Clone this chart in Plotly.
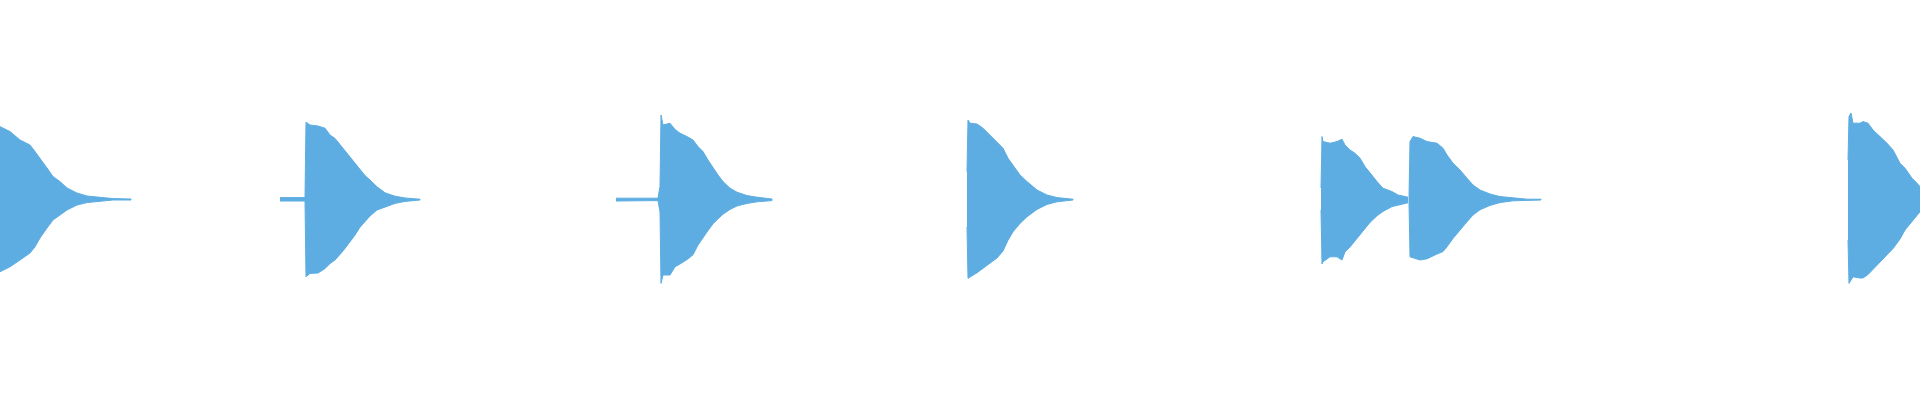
import plotly.graph_objects as go

# envelope of each hit (time in s, upper / lower peak amplitude)
t_hit1 = [0.00, 0.10, 0.20, 0.30, 0.35, 0.40, 0.47, 0.53, 0.60, 0.67, 0.77, 0.87, 1.00, 1.13, 1.31]
hi_hit1 = [0.367, 0.342, 0.300, 0.275, 0.242, 0.210, 0.160, 0.117, 0.092, 0.060, 0.035, 0.020, 0.012, 0.007, 0.005]
lo_hit1 = [-0.359, -0.334, -0.300, -0.265, -0.234, -0.190, -0.140, -0.100, -0.075, -0.050, -0.025, -0.013, -0.005, 0.0, 0.0]

t_hit2 = [2.80, 3.05, 3.06, 3.10, 3.18, 3.25, 3.30, 3.35, 3.40, 3.45, 3.50, 3.55, 3.60, 3.65, 3.70, 3.77, 3.85, 3.95, 4.05, 4.20]
hi_hit2 = [0.012, 0.012, 0.389, 0.375, 0.370, 0.359, 0.325, 0.308, 0.277, 0.246, 0.220, 0.187, 0.154, 0.122, 0.100, 0.066, 0.036, 0.019, 0.010, 0.004]
lo_hit2 = [-0.005, -0.005, -0.384, -0.367, -0.365, -0.343, -0.318, -0.300, -0.272, -0.242, -0.211, -0.175, -0.136, -0.109, -0.080, -0.050, -0.034, -0.017, -0.007, 0.0]

t_hit3 = [6.16, 6.58, 6.60, 6.61, 6.63, 6.70, 6.75, 6.80, 6.87, 6.93, 6.98, 7.03, 7.08, 7.13, 7.18, 7.23, 7.30, 7.37, 7.47, 7.57, 7.72]
hi_hit3 = [0.009, 0.009, 0.067, 0.425, 0.375, 0.384, 0.353, 0.334, 0.317, 0.300, 0.267, 0.242, 0.200, 0.159, 0.125, 0.092, 0.059, 0.039, 0.022, 0.014, 0.005]
lo_hit3 = [-0.005, -0.003, -0.059, -0.417, -0.375, -0.375, -0.334, -0.320, -0.298, -0.274, -0.225, -0.189, -0.153, -0.119, -0.094, -0.071, -0.047, -0.030, -0.017, -0.009, -0.003]

t_hit4 = [9.67, 9.68, 9.70, 9.77, 9.83, 9.90, 9.97, 10.03, 10.08, 10.13, 10.20, 10.27, 10.37, 10.47, 10.57, 10.73]
hi_hit4 = [0.142, 0.400, 0.384, 0.380, 0.359, 0.325, 0.292, 0.259, 0.209, 0.175, 0.125, 0.092, 0.050, 0.025, 0.012, 0.004]
lo_hit4 = [-0.134, -0.392, -0.385, -0.364, -0.344, -0.317, -0.290, -0.255, -0.201, -0.159, -0.117, -0.084, -0.047, -0.022, -0.009, 0.0]

t_hit5 = [13.21, 13.22, 13.23, 13.30, 13.37, 13.42, 13.45, 13.50, 13.55, 13.60, 13.65, 13.70, 13.77, 13.83, 13.92, 13.98, 14.08]
hi_hit5 = [0.060, 0.317, 0.292, 0.284, 0.292, 0.304, 0.275, 0.250, 0.234, 0.209, 0.167, 0.134, 0.092, 0.059, 0.042, 0.025, 0.014]
lo_hit5 = [-0.050, -0.320, -0.309, -0.284, -0.284, -0.300, -0.259, -0.235, -0.204, -0.172, -0.142, -0.112, -0.079, -0.057, -0.033, -0.026, -0.014]

t_hit6 = [14.09, 14.10, 14.13, 14.20, 14.27, 14.37, 14.43, 14.47, 14.53, 14.60, 14.67, 14.73, 14.80, 14.90, 15.00, 15.13, 15.27, 15.41]
hi_hit6 = [0.015, 0.292, 0.317, 0.309, 0.292, 0.284, 0.259, 0.225, 0.184, 0.150, 0.109, 0.075, 0.050, 0.030, 0.017, 0.009, 0.004, 0.004]
lo_hit6 = [-0.013, -0.284, -0.290, -0.300, -0.294, -0.270, -0.258, -0.234, -0.192, -0.150, -0.109, -0.075, -0.049, -0.027, -0.013, -0.004, -0.002, 0.0]

t_hit7 = [18.48, 18.49, 18.51, 18.53, 18.60, 18.63, 18.68, 18.73, 18.80, 18.87, 18.93, 19.00, 19.05, 19.12, 19.17, 19.20]
hi_hit7 = [0.200, 0.417, 0.435, 0.384, 0.384, 0.392, 0.384, 0.350, 0.317, 0.284, 0.250, 0.184, 0.159, 0.109, 0.084, 0.067]
lo_hit7 = [-0.200, -0.417, -0.400, -0.384, -0.390, -0.390, -0.373, -0.349, -0.310, -0.274, -0.243, -0.195, -0.150, -0.109, -0.078, -0.059]

hits = [
    (t_hit1, hi_hit1, lo_hit1),
    (t_hit2, hi_hit2, lo_hit2),
    (t_hit3, hi_hit3, lo_hit3),
    (t_hit4, hi_hit4, lo_hit4),
    (t_hit5, hi_hit5, lo_hit5),
    (t_hit6, hi_hit6, lo_hit6),
    (t_hit7, hi_hit7, lo_hit7),
]

wave_color = "#5DADE2"

# one closed outline per hit, split by None so each fills on its own
xs, ys = [], []
for t, hi, lo in hits:
    xs += t + t[::-1] + [None]
    ys += hi + lo[::-1] + [None]

fig = go.Figure()
fig.add_trace(
    go.Scatter(
        x=xs,
        y=ys,
        mode="lines",
        fill="toself",
        fillcolor=wave_color,
        line={"color": wave_color, "width": 1},
        hoverinfo="skip",
        showlegend=False,
    )
)

fig.update_layout(
    width=1920,
    height=400,
    margin=dict(l=0, r=0, t=0, b=0),
    paper_bgcolor="white",
    plot_bgcolor="white",
    xaxis=dict(range=[0, 19.2], visible=False, fixedrange=True),
    yaxis=dict(range=[-1, 1], visible=False, fixedrange=True),
)

# page body margin would push the plot off the window edges
fig.write_html(
    "out.html",
    config={"displayModeBar": False},
    post_script="document.body.style.margin = '0';",
)
